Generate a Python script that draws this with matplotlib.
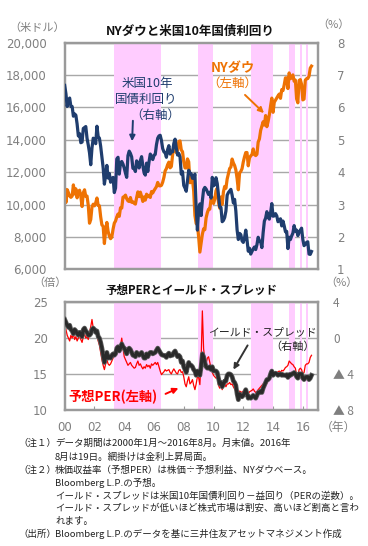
import numpy as np
import matplotlib
matplotlib.use("Agg")
import matplotlib.pyplot as plt
import matplotlib.patheffects as pe

plt.rcParams['font.family'] = ['Noto Sans CJK JP', 'DejaVu Sans']

# ---------------- data (month-end, Jan 2000 - Aug 2016) ----------------
dow = [
    10940, 10128, 10922, 10734, 10522, 10448, 10522, 11215, 10651, 10971, 10415, 10787,
    10887, 10495, 9879, 10735, 10912, 10502, 10523, 9950, 8848, 9075, 9852, 10022,
    9920, 10106, 10404, 9946, 9925, 9243, 8737, 8664, 7592, 8397, 8896, 8342,
    8054, 7891, 7992, 8480, 8850, 8985, 9234, 9416, 9275, 9801, 9782, 10454,
    10488, 10584, 10358, 10226, 10188, 10435, 10140, 10174, 10080, 10027, 10428, 10783,
    10490, 10766, 10504, 10193, 10467, 10275, 10641, 10482, 10569, 10440, 10806, 10718,
    10865, 10993, 11109, 11367, 11168, 11150, 11186, 11381, 11679, 12081, 12222, 12463,
    12622, 12269, 12354, 13063, 13628, 13409, 13212, 13358, 13896, 13930, 13372, 13265,
    12650, 12266, 12263, 12820, 12638, 11350, 11378, 11544, 10851, 9325, 8829, 8776,
    8001, 7063, 7609, 8168, 8500, 8447, 9172, 9496, 9712, 9713, 10345, 10428,
    10067, 10325, 10857, 11009, 10137, 9774, 10466, 10015, 10788, 11118, 11006, 11578,
    11892, 12226, 12320, 12811, 12570, 12414, 12143, 11614, 10913, 11955, 12046, 12218,
    12633, 12952, 13212, 13214, 12393, 12880, 13009, 13091, 13437, 13096, 13026, 13104,
    13861, 14054, 14579, 14840, 15116, 14910, 15500, 14810, 15130, 15546, 16086, 16577,
    15699, 16322, 16458, 16581, 16717, 16827, 16563, 17098, 17043, 17391, 17828, 17823,
    17165, 18133, 17776, 17841, 18011, 17620, 17690, 16528, 16285, 17664, 17720, 17425,
    16466, 16517, 17685, 17774, 17787, 17930, 18432, 18553,
]
yield10 = [
    6.68, 6.42, 6.03, 6.23, 6.29, 6.03, 6.03, 5.73, 5.80, 5.76, 5.49, 5.12,
    5.19, 4.91, 4.93, 5.35, 5.38, 5.41, 5.05, 4.84, 4.60, 4.23, 4.75, 5.05,
    5.03, 4.88, 5.42, 5.10, 5.05, 4.80, 4.46, 4.14, 3.63, 3.89, 4.21, 3.82,
    3.96, 3.69, 3.80, 3.84, 3.37, 3.51, 4.41, 4.46, 3.94, 4.29, 4.33, 4.25,
    4.13, 3.97, 3.84, 4.51, 4.65, 4.58, 4.47, 4.12, 4.12, 4.02, 4.35, 4.22,
    4.13, 4.36, 4.48, 4.20, 3.98, 3.91, 4.28, 4.02, 4.32, 4.56, 4.49, 4.39,
    4.52, 4.55, 4.85, 5.05, 5.12, 5.14, 4.98, 4.73, 4.63, 4.60, 4.46, 4.70,
    4.82, 4.56, 4.64, 4.63, 4.89, 5.02, 4.74, 4.53, 4.58, 4.47, 3.94, 4.02,
    3.59, 3.51, 3.41, 3.73, 4.06, 3.97, 3.95, 3.81, 3.83, 3.94, 2.92, 2.21,
    2.84, 3.02, 2.66, 3.12, 3.46, 3.53, 3.48, 3.40, 3.31, 3.38, 3.20, 3.84,
    3.58, 3.61, 3.83, 3.65, 3.29, 2.93, 2.91, 2.47, 2.51, 2.60, 2.80, 3.29,
    3.37, 3.42, 3.47, 3.29, 3.05, 3.16, 2.80, 2.22, 1.92, 2.11, 2.07, 1.88,
    1.83, 1.97, 2.21, 1.91, 1.56, 1.65, 1.47, 1.55, 1.63, 1.69, 1.61, 1.76,
    1.99, 1.88, 1.85, 1.67, 2.13, 2.49, 2.58, 2.78, 2.61, 2.55, 2.74, 3.03,
    2.64, 2.65, 2.72, 2.65, 2.47, 2.53, 2.56, 2.34, 2.49, 2.34, 2.16, 2.17,
    1.64, 1.99, 1.92, 2.03, 2.12, 2.35, 2.18, 2.21, 2.04, 2.14, 2.21, 2.27,
    1.92, 1.73, 1.77, 1.83, 1.85, 1.47, 1.46, 1.55,
]
per = [
    21.8, 21.2, 20.4, 20.0, 19.6, 20.4, 20.0, 20.6, 19.8, 20.2, 19.6, 20.0,
    20.4, 19.8, 19.4, 20.2, 20.6, 20.0, 20.2, 19.8, 20.8, 21.6, 22.6, 21.4,
    21.0, 20.6, 20.4, 19.6, 19.0, 18.0, 17.0, 16.2, 15.6, 16.4, 17.0, 16.4,
    16.2, 16.4, 16.8, 17.2, 17.8, 18.2, 18.6, 18.8, 18.6, 19.0, 20.0, 18.6,
    17.4, 17.0, 16.6, 16.2, 16.4, 16.6, 16.2, 16.0, 15.8, 15.9, 16.4, 16.8,
    16.2, 16.4, 16.0, 15.7, 16.0, 15.8, 16.3, 16.0, 16.2, 15.8, 16.4, 16.2,
    16.4, 16.6, 16.3, 16.6, 16.0, 15.4, 14.9, 15.1, 15.3, 15.6, 15.4, 15.5,
    15.6, 15.2, 15.0, 15.4, 15.7, 15.4, 15.1, 15.0, 15.5, 15.6, 15.2, 15.3,
    14.6, 13.6, 13.2, 14.0, 14.6, 13.6, 13.8, 14.2, 13.4, 12.8, 13.6, 14.6,
    14.5, 13.5, 17.0, 23.8, 18.5, 17.0, 16.4, 17.2, 17.4, 16.6, 15.8, 15.2,
    14.8, 14.6, 14.4, 14.6, 13.4, 13.0, 13.4, 12.8, 13.4, 13.6, 13.2, 13.6,
    13.6, 13.8, 13.5, 13.6, 13.2, 12.9, 12.6, 12.0, 11.8, 12.6, 12.5, 12.4,
    12.6, 12.8, 12.9, 12.8, 12.2, 12.5, 12.6, 12.7, 12.9, 12.6, 12.4, 12.5,
    12.8, 13.0, 13.2, 13.4, 13.6, 13.5, 13.9, 13.7, 14.0, 14.4, 14.8, 15.1,
    15.0, 15.2, 15.3, 15.1, 15.3, 15.4, 15.2, 15.5, 15.4, 15.6, 15.9, 16.0,
    16.2, 16.8, 16.6, 16.4, 16.3, 16.0, 15.8, 14.8, 14.6, 15.6, 15.8, 15.6,
    15.0, 15.2, 16.2, 16.4, 16.4, 16.6, 17.3, 17.6,
]
spread = [
    2.08, 1.76, 1.44, 1.20, 1.44, 0.96, 0.80, 0.48, 0.96, 0.80, 0.48, 0.32,
    0.64, 0.48, 0.16, 0.96, 1.12, 0.80, 0.64, 0.32, 0.32, 0.48, 0.96, 1.12,
    0.96, 0.64, 0.80, 0.16, 0.00, -0.48, -1.12, -1.92, -2.72, -2.08, -1.60, -2.24,
    -2.08, -2.24, -1.92, -1.76, -1.92, -1.76, -1.12, -0.96, -1.44, -1.12, -0.64, -0.96,
    -1.12, -1.44, -1.76, -1.28, -1.12, -1.28, -1.60, -1.92, -1.92, -2.08, -1.60, -1.76,
    -1.92, -1.76, -1.60, -1.92, -2.24, -2.24, -1.76, -2.08, -1.76, -1.60, -1.60, -1.76,
    -1.68, -1.60, -1.36, -1.12, -1.36, -1.60, -1.84, -1.92, -1.92, -2.00, -2.16, -1.84,
    -1.68, -2.00, -1.92, -1.92, -1.60, -1.44, -1.76, -2.08, -1.92, -2.08, -2.72, -2.56,
    -3.20, -3.52, -3.84, -3.20, -2.72, -3.04, -3.04, -3.20, -3.52, -3.68, -4.16, -3.68,
    -3.84, -4.16, -3.20, -1.76, -2.08, -2.72, -3.20, -3.36, -3.36, -3.20, -3.52, -3.20,
    -3.68, -3.68, -3.68, -3.84, -4.48, -5.12, -4.96, -5.44, -5.12, -4.80, -4.80, -4.16,
    -4.00, -4.00, -4.08, -4.32, -4.80, -4.96, -5.28, -6.24, -6.88, -6.24, -6.40, -6.56,
    -6.40, -6.08, -5.76, -6.24, -6.72, -6.56, -6.72, -6.56, -6.40, -6.56, -6.72, -6.40,
    -6.08, -6.08, -5.92, -6.08, -5.60, -5.28, -4.96, -4.64, -4.64, -4.48, -4.00, -3.68,
    -4.16, -4.00, -3.92, -4.00, -4.16, -4.08, -4.00, -4.16, -4.08, -4.16, -4.16, -4.08,
    -4.40, -4.08, -4.16, -4.00, -4.00, -3.84, -4.00, -4.32, -4.48, -4.00, -4.00, -4.00,
    -4.48, -4.64, -4.40, -4.32, -4.32, -4.64, -4.48, -4.16,
]
# periods of rising rates (shaded), in fractional years
rate_up_periods = [(2003.33, 2006.45), (2008.98, 2009.95), (2012.52, 2013.98),
                   (2015.07, 2015.47), (2015.81, 2015.97), (2016.22, 2016.35)]

year_ticks = list(range(2000, 2017, 2))
year_labels = ['00', '02', '04', '06', '08', '10', '12', '14', '16']
dow_ticks = [6000, 8000, 10000, 12000, 14000, 16000, 18000, 20000]
dow_labels = ['6,000', '8,000', '10,000', '12,000', '14,000', '16,000', '18,000', '20,000']
yld_ticks = [1, 2, 3, 4, 5, 6, 7, 8]
per_ticks = [10, 15, 20, 25]
spr_ticks = [-8, -4, 0, 4]
spr_labels = ['▲ 8', '▲ 4', '0', '4']

t = 2000 + np.arange(len(dow)) / 12.0

# ---------------- styling ----------------
W, H = 368, 546
GRAY_TXT = '#7f7f7f'
SPINE = '#9a9a9a'
GRID = '#a8a8a8'
PINK = '#ffccff'
ORANGE = '#ee7203'
NAVY = '#1f3d6e'
NUMFONT = ['DejaVu Sans']

fig = plt.figure(figsize=(W / 100, H / 100), dpi=100)


def fx(x):
    return x / W


def fy(y):
    return 1 - y / H


def style_axes(ax):
    for s in ax.spines.values():
        s.set_color(SPINE)
        s.set_linewidth(1.6)


L, R = 64.7, 317.7
ax1 = fig.add_axes([fx(L), fy(269.3), (R - L) / W, (269.3 - 42.7) / H])
ax2 = ax1.twinx()
ax3 = fig.add_axes([fx(L), fy(409.7), (R - L) / W, (409.7 - 302.3) / H])
ax4 = ax3.twinx()

for ax in (ax1, ax3):
    ax.set_xlim(2000, 2017)
    ax.set_axisbelow(True)
    ax.yaxis.grid(True, color=GRID, lw=1.0)
    for a, b in rate_up_periods:
        ax.axvspan(a, b, color=PINK, lw=0, zorder=1)

for ax in (ax1, ax2, ax3, ax4):
    style_axes(ax)

# top chart
ax1.plot(t, dow, color=ORANGE, lw=2.3, zorder=3)
ax1.set_ylim(6000, 20000)
ax1.set_yticks(dow_ticks)
ax1.set_yticklabels(dow_labels, family=NUMFONT, fontsize=8.5, color=GRAY_TXT)
ax1.tick_params(axis='y', length=0, pad=13)
ax1.set_xticks([])

ax2.plot(t, yield10, color=NAVY, lw=2.3, zorder=4)
ax2.set_ylim(1, 8)
ax2.set_yticks(yld_ticks)
ax2.set_yticklabels([str(v) for v in yld_ticks], family=NUMFONT, fontsize=8.5, color=GRAY_TXT)
ax2.tick_params(axis='y', length=0, pad=14)
ax2.set_xlim(2000, 2017)

# bottom chart
ax3.plot(t, per, color='#ff0000', lw=0.9, zorder=3)
ax3.set_ylim(10, 25)
ax3.set_yticks(per_ticks)
ax3.set_yticklabels([str(v) for v in per_ticks], family=NUMFONT, fontsize=8.5, color=GRAY_TXT)
ax3.tick_params(axis='y', length=0, pad=12)
ax3.set_xticks(year_ticks)
ax3.set_xticklabels(year_labels, family=NUMFONT, fontsize=8.5, color=GRAY_TXT)
ax3.tick_params(axis='x', direction='in', length=3, color=SPINE, pad=8)

ax4.plot(t, spread, color='#2a2a2a', lw=2.2, zorder=4,
         path_effects=[pe.Stroke(linewidth=3.4, foreground='#5a5a5a'), pe.Normal()])
ax4.set_ylim(-8, 4)
ax4.set_yticks(spr_ticks)
ax4.set_yticklabels(spr_labels, fontsize=8.5, color=GRAY_TXT)
ax4.tick_params(axis='y', length=0, pad=11)
ax4.set_xlim(2000, 2017)

# ---------------- texts ----------------
def txt(x, y, s, **kw):
    kw.setdefault('ha', 'center')
    kw.setdefault('va', 'center')
    fig.text(fx(x), fy(y), s, **kw)


def arrow(x0, y0, x1, y1, color):
    fig.add_artist(matplotlib.patches.FancyArrowPatch(
        (fx(x0), fy(y0)), (fx(x1), fy(y1)), transform=fig.transFigure,
        arrowstyle='-|>', mutation_scale=8, color=color, lw=1.4))


txt(190, 31, 'NYダウと米国10年国債利回り', fontsize=9, fontweight='bold', color='#111111')
txt(37, 28, '（米ドル）', fontsize=8, color=GRAY_TXT)
txt(333, 25, '（%）', fontsize=8, color=GRAY_TXT)

txt(147, 83, '米国10年', fontsize=9, color=NAVY)
txt(146, 99, '国債利回り', fontsize=9, color=NAVY)
txt(155, 115, '（右軸）', fontsize=9, color=NAVY)
arrow(133, 118, 132, 144, NAVY)

txt(233, 68, 'NYダウ', fontsize=9.5, fontweight='bold', color=ORANGE)
txt(232, 83, '（左軸）', fontsize=9, color=ORANGE)
arrow(243, 93, 266, 115, ORANGE)

txt(191, 290, '予想PERとイールド・スプレッド', fontsize=8.3, fontweight='bold', color='#111111')
txt(50, 283, '（倍）', fontsize=8, color=GRAY_TXT)
txt(341, 283, '（%）', fontsize=8, color=GRAY_TXT)

txt(262, 331.7, 'イールド・スプレッド', fontsize=7.8, color='#222222')
txt(293, 346.7, '（右軸）', fontsize=8, color='#222222')
arrow(249, 343, 232, 372, '#333333')

txt(68, 396.7, '予想PER(左軸)', fontsize=9.5, fontweight='bold', color='#ff0000', ha='left')
arrow(163, 395, 181, 387, '#ff0000')

txt(338, 427, '（年）', fontsize=8.5, color=GRAY_TXT)

notes = [
    (443.3, '（注１）', 'データ期間は2000年1月～2016年8月。月末値。2016年'),
    (457.7, '', '8月は19日。網掛けは金利上昇局面。'),
    (470.3, '（注２）', '株価収益率（予想PER）は株価÷予想利益、NYダウベース。'),
    (482.7, '', 'Bloomberg L.P.の予想。'),
    (496.0, '', 'イールド・スプレッドは米国10年国債利回り－益回り（PERの逆数）。'),
    (507.7, '', 'イールド・スプレッドが低いほど株式市場は割安、高いほど割高と言わ'),
    (521.0, '', 'れます。'),
    (534.3, '（出所）', 'Bloomberg L.P.のデータを基に三井住友アセットマネジメント作成'),
]
for y, head, body in notes:
    if head:
        txt(18, y, head, fontsize=6.8, color='#222222', ha='left')
    txt(55, y, body, fontsize=6.8, color='#222222', ha='left')

fig.savefig('out.png', dpi=100)
